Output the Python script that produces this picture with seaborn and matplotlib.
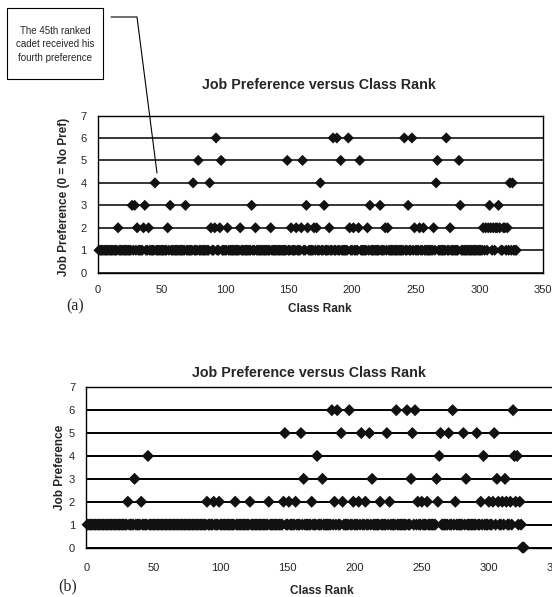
# ------------------- Importing Libraries --------------------

import numpy as np
import pandas as pd
import seaborn as sns
import matplotlib.pyplot as plt
from matplotlib.lines import Line2D
from matplotlib.patches import Rectangle


# ------------------- Data -------------------------------------------

# (a) ranks of cadets who did NOT get their first preference
n_cadets_a = 329
a_pref2 = [16, 31, 36, 40, 55, 89, 92, 96, 102, 112, 124, 136, 152, 156, 160,
           165, 170, 172, 182, 198, 201, 205, 212, 226, 228, 249, 253, 256, 264,
           277, 303, 305, 307, 309, 311, 313, 314, 316, 319, 320, 322]
a_pref3 = [27, 29, 37, 57, 69, 121, 164, 178, 214, 222, 244, 285, 308, 315]
a_pref4 = [45, 75, 88, 175, 266, 324, 326]
a_pref5 = [79, 97, 149, 161, 191, 206, 267, 284]
a_pref6 = [93, 185, 188, 197, 241, 247, 274]

# (b)
n_cadets_b = 326
b_pref0 = [325, 326]
b_pref2 = [31, 41, 90, 95, 99, 111, 122, 136, 147, 151, 156, 168, 185, 191, 199,
           203, 208, 219, 226, 247, 250, 254, 262, 275, 294, 300, 303, 307, 310,
           313, 316, 320, 323]
b_pref3 = [36, 162, 176, 213, 242, 261, 283, 306, 312]
b_pref4 = [46, 172, 263, 296, 319, 321]
b_pref5 = [148, 160, 190, 205, 211, 224, 243, 264, 270, 281, 291, 304]
b_pref6 = [183, 187, 196, 231, 239, 245, 273, 318]

x_ticks = [0, 50, 100, 150, 200, 250, 300, 350]
y_ticks = [0, 1, 2, 3, 4, 5, 6, 7]


# ------------------- Functions --------------------

# every cadet gets pref 1 unless listed in one of the other lists
def build_frame(n, pref_lists):
    pref = np.ones(n, dtype=int)
    for level, ranks in pref_lists.items():
        for r in ranks:
            pref[r - 1] = level
    return pd.DataFrame({'rank': np.arange(1, n + 1), 'pref': pref})


def style_axis(ax, pad):
    ax.set_xlim(0, 350)
    ax.set_ylim(0, 7)
    ax.set_xticks(x_ticks)
    ax.set_yticks(y_ticks)
    ax.yaxis.grid(True, color='black', lw=1.1)
    ax.xaxis.grid(False)
    ax.set_axisbelow(True)
    ax.tick_params(axis='both', direction='out', length=4, width=0.8,
                   color='black', labelsize=8, pad=pad)
    ax.tick_params(axis='y', pad=4)
    for s in ax.spines.values():
        s.set_color('black')
        s.set_linewidth(1.0)
    ax.set_xlabel('')
    ax.set_ylabel('')


# ------------------- Plot --------------------

sns.set_style('white')
plt.rcParams['font.family'] = ['Liberation Sans', 'DejaVu Sans']

W, H = 552, 597
fig = plt.figure(figsize=(W / 100, H / 100), dpi=100)


def fx(px):
    return px / W


def fy(py):
    return 1 - py / H


df_a = build_frame(n_cadets_a, {2: a_pref2, 3: a_pref3, 4: a_pref4, 5: a_pref5, 6: a_pref6})
df_b = build_frame(n_cadets_b, {0: b_pref0, 2: b_pref2, 3: b_pref3, 4: b_pref4,
                                5: b_pref5, 6: b_pref6})

# chart (a)
ax1 = fig.add_axes([fx(97.7), fy(272.7), (543 - 97.7) / W, (272.7 - 115.5) / H])
sns.scatterplot(data=df_a, x='rank', y='pref', marker='D', s=32, color='#111111',
                edgecolor='none', linewidth=0, ax=ax1, clip_on=False, legend=False, zorder=3)
style_axis(ax1, pad=4.5)

# chart (b)
ax2 = fig.add_axes([fx(86.2), fy(547.5), (556 - 86.2) / W, (547.5 - 387.3) / H])
sns.scatterplot(data=df_b, x='rank', y='pref', marker='D', s=38, color='#111111',
                edgecolor='none', linewidth=0, ax=ax2, clip_on=False, legend=False, zorder=3)
style_axis(ax2, pad=7)
ax2.yaxis.grid(True, color='black', lw=1.4)

# titles and labels
fig.text(fx(319), fy(85), 'Job Preference versus Class Rank', ha='center', va='center',
         fontsize=10.3, fontweight='bold')
fig.text(fx(309), fy(372.7), 'Job Preference versus Class Rank', ha='center', va='center',
         fontsize=10.3, fontweight='bold')
fig.text(fx(64), fy(197), 'Job Preference (0 = No Pref)', ha='center', va='center',
         rotation=90, fontsize=8.5, fontweight='bold')
fig.text(fx(60), fy(467), 'Job Preference', ha='center', va='center',
         rotation=90, fontsize=8.5, fontweight='bold')
fig.text(fx(320), fy(309), 'Class Rank', ha='center', va='center',
         fontsize=8.5, fontweight='bold')
fig.text(fx(322), fy(590.6), 'Class Rank', ha='center', va='center',
         fontsize=8.5, fontweight='bold')
fig.text(fx(75), fy(306), '(a)', ha='center', va='center', fontsize=11.5,
         family=['Liberation Serif', 'DejaVu Serif'])
fig.text(fx(68), fy(586), '(b)', ha='center', va='center', fontsize=11.5,
         family=['Liberation Serif', 'DejaVu Serif'])

# callout box for the 45th cadet
fig.add_artist(Rectangle((fx(7), fy(79)), (103 - 7) / W, (79 - 8) / H, fill=False,
                         edgecolor='black', lw=0.8, transform=fig.transFigure))
fig.text(fx(55.5), fy(44.3), 'The 45th ranked\ncadet received his\nfourth preference',
         ha='center', va='center', fontsize=7, linespacing=1.45)
fig.add_artist(Line2D([fx(111), fx(137), fx(157)], [fy(17), fy(17), fy(173)],
                      color='black', lw=0.8, transform=fig.transFigure))

fig.savefig('out.png', dpi=100)
plt.close()
